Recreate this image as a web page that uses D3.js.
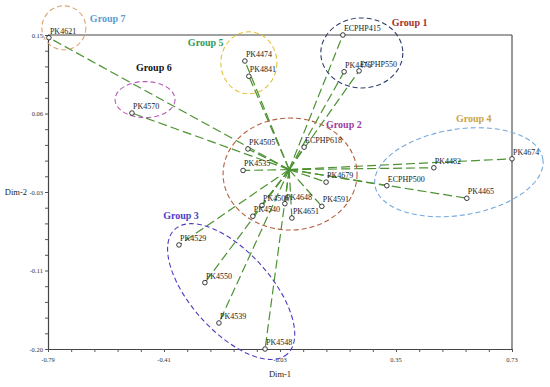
<!DOCTYPE html>
<html>
<head>
<meta charset="utf-8">
<script src="https://cdn.jsdelivr.net/npm/d3@7"></script>
<style>
  html, body { margin: 0; padding: 0; background: #fff; }
  svg { display: block; font-family: "Liberation Serif", "Times New Roman", serif; }
  .tick-label { font-size: 6.5px; fill: #333; }
  .pt-label { font-size: 8px; fill: #222; }
  .grp-label { font-size: 10px; font-weight: bold; }
  .axis-title { font-size: 8.5px; fill: #222; }
</style>
</head>
<body>
<svg id="chart" width="550" height="387"></svg>
<script>
// accessions and their coordinates on the two dimensions
const names = ['PK4621', 'PK4570', 'PK4474', 'PK4841', 'ECPHP415', 'PK4476', 'ECPHP550',
  'ECPHP618', 'PK4505', 'PK4535', 'PK4679', 'ECPHP500', 'PK4482', 'PK4674', 'PK4465',
  'PK4591', 'PK4648', 'PK4651', 'PK4506', 'PK4540', 'PK4529', 'PK4550', 'PK4539', 'PK4548']
const dim1 = [-0.787, -0.515, -0.145, -0.132, 0.176, 0.18, 0.229,
  0.049, -0.135, -0.151, 0.121, 0.32, 0.474, 0.73, 0.582,
  0.107, -0.014, 0.009, -0.089, -0.119, -0.361, -0.276, -0.23, -0.079]
const dim2 = [0.147, 0.063, 0.121, 0.104, 0.15, 0.109, 0.11,
  0.025, 0.023, -0.001, -0.014, -0.018, 0.002, 0.012, -0.032,
  -0.041, -0.038, -0.054, -0.04, -0.052, -0.084, -0.126, -0.171, -0.2]

// tick labels
const xTicks = [-0.79, -0.41, -0.03, 0.35, 0.73]
const yTicks = [0.15, 0.06, -0.03, -0.11, -0.2]

// groups: name, centre on the plot (data units)
const groupNames = ['Group 1', 'Group 2', 'Group 3', 'Group 4', 'Group 5', 'Group 6', 'Group 7']
const groupCx = [0.238, 0.003, -0.19, 0.556, -0.132, -0.472, -0.738]
const groupCy = [0.13, -0.005, -0.136, -0.003, 0.119, 0.078, 0.158]

// ellipse shape and label placement (pixels, relative to the group centre)
const groupStyle = [
  { rx: 41, ry: 35, rot: 0, ring: '#2e3d6b', text: '#a3322a', lx: 30, ly: -27 },
  { rx: 67, ry: 56, rot: 0, ring: '#b3603f', text: '#9b3ca5', lx: 36, ly: -46 },
  { rx: 84, ry: 40, rot: 48, ring: '#4b3fc0', text: '#4a3fc8', lx: -68, ly: -73 },
  { rx: 85, ry: 43, rot: -9, ring: '#74a9dd', text: '#c9a347', lx: -3, ly: -50 },
  { rx: 28, ry: 31, rot: 0, ring: '#e3c43c', text: '#2f9a5c', lx: -61, ly: -17 },
  { rx: 30, ry: 18, rot: 0, ring: '#b45ab8', text: '#111111', lx: -9, ly: -29 },
  { rx: 22, ry: 22, rot: 0, ring: '#dfa46c', text: '#5b9bd5', lx: 26, ly: -6 }
]

const margin = { top: 35, right: 38, bottom: 38, left: 48 }
const width = 550
const height = 387
const innerWidth = width - margin.left - margin.right
const innerHeight = height - margin.top - margin.bottom

const svg = d3.select('#chart')
const root = svg.append('g').attr('transform', `translate(${margin.left},${margin.top})`)

const x = d3.scaleLinear().domain([-0.79, 0.73]).range([0, innerWidth])
const y = d3.scaleLinear().domain([-0.2, 0.15]).range([innerHeight, 0])

// minor ticks: five per labelled interval
const xMinor = d3.range(0, 21).map((i) => -0.79 + i * 1.52 / 20)
const yMinor = d3.range(0, 21).map((i) => -0.2 + i * 0.35 / 20)

// frame: top and right lines
root.append('line').attr('x1', 0).attr('x2', innerWidth).attr('y1', 0).attr('y2', 0)
  .attr('stroke', '#444').attr('stroke-width', 1.2)
root.append('line').attr('x1', innerWidth).attr('x2', innerWidth).attr('y1', 0).attr('y2', innerHeight)
  .attr('stroke', '#555').attr('stroke-width', 1.2)

const xAxis = root.append('g')
  .attr('transform', `translate(0,${innerHeight})`)
  .call(d3.axisBottom(x).tickValues(xMinor).tickSize(3).tickFormat('').tickSizeOuter(0))
const yAxis = root.append('g')
  .call(d3.axisLeft(y).tickValues(yMinor).tickSize(3).tickFormat('').tickSizeOuter(0))
;[xAxis, yAxis].forEach((a) => {
  a.select('.domain').attr('stroke', '#444').attr('stroke-width', 1.2)
  a.selectAll('.tick line').attr('stroke', '#555')
})

root.selectAll('.xlab').data(xTicks).join('text')
  .attr('class', 'tick-label')
  .attr('x', (d) => x(d))
  .attr('y', innerHeight + 13)
  .attr('text-anchor', 'middle')
  .text((d) => d.toFixed(2))
root.selectAll('.ylab').data(yTicks).join('text')
  .attr('class', 'tick-label')
  .attr('x', -5)
  .attr('y', (d, i) => y(0.15 - i * 0.0875) + 2.5)
  .attr('text-anchor', 'end')
  .text((d) => d.toFixed(2))

root.append('text').attr('class', 'axis-title')
  .attr('x', x(-0.03)).attr('y', innerHeight + 28)
  .attr('text-anchor', 'middle').text('Dim-1')
root.append('text').attr('class', 'axis-title')
  .attr('x', -21).attr('y', y(-0.025) + 3)
  .attr('text-anchor', 'end').text('Dim-2')

const points = names.map((n, i) => ({ name: n, d1: dim1[i], d2: dim2[i] }))

// dashed rays from the origin
root.selectAll('.ray').data(points).join('line')
  .attr('x1', x(0)).attr('y1', y(0))
  .attr('x2', (d) => x(d.d1)).attr('y2', (d) => y(d.d2))
  .attr('stroke', '#4c9232')
  .attr('stroke-width', 1.2)
  .attr('stroke-dasharray', '9,4')

// group ellipses
const groups = groupNames.map((g, i) => ({ name: g, cx: groupCx[i], cy: groupCy[i], ...groupStyle[i] }))
root.selectAll('.ring').data(groups).join('ellipse')
  .attr('transform', (d) => `translate(${x(d.cx)},${y(d.cy)}) rotate(${d.rot})`)
  .attr('rx', (d) => d.rx).attr('ry', (d) => d.ry)
  .attr('fill', 'none')
  .attr('stroke', (d) => d.ring)
  .attr('stroke-width', 1.1)
  .attr('stroke-dasharray', '5,3')

root.selectAll('.grp-label').data(groups).join('text')
  .attr('class', 'grp-label')
  .attr('x', (d) => x(d.cx) + d.lx)
  .attr('y', (d) => y(d.cy) + d.ly)
  .attr('fill', (d) => d.text)
  .text((d) => d.name)

// markers and labels
root.selectAll('.pt').data(points).join('circle')
  .attr('cx', (d) => x(d.d1)).attr('cy', (d) => y(d.d2))
  .attr('r', 2.3)
  .attr('fill', '#fff')
  .attr('stroke', '#222')
  .attr('stroke-width', 0.9)

root.selectAll('.pt-label').data(points).join('text')
  .attr('class', 'pt-label')
  .attr('x', (d) => x(d.d1) + 1)
  .attr('y', (d) => y(d.d2) - 4)
  .text((d) => d.name)
</script>
</body>
</html>
